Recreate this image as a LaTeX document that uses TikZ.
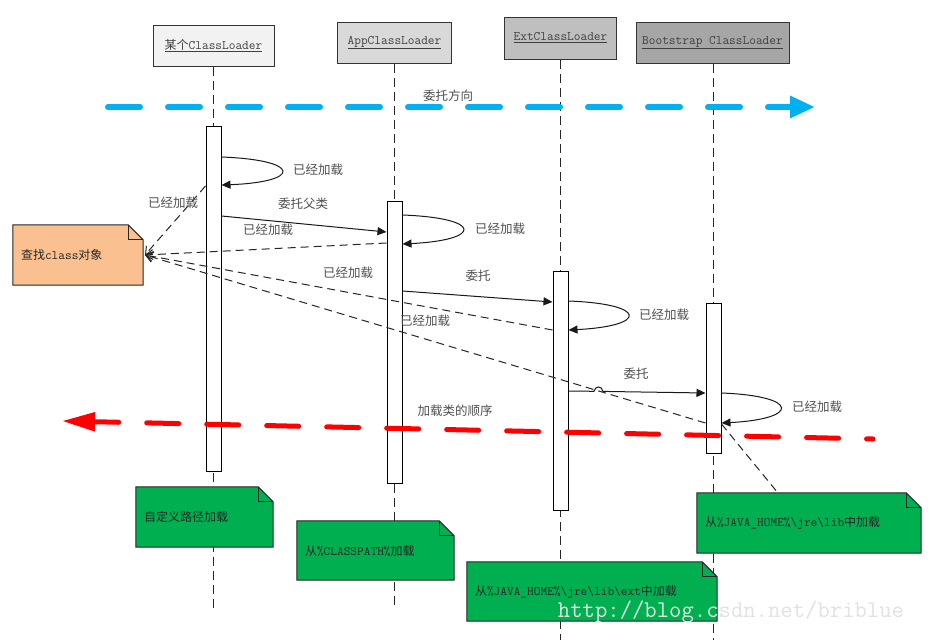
\documentclass[tikz,border=0pt]{standalone}
\usepackage{fontspec}
\setmainfont{Noto Sans CJK SC}
\usetikzlibrary{arrows.meta}
\definecolor{lblgray}{HTML}{505050}
\definecolor{hdrA}{HTML}{F2F2F2}
\definecolor{hdrB}{HTML}{D9D9D9}
\definecolor{hdrC}{HTML}{BFBFBF}
\definecolor{hdrD}{HTML}{A6A6A6}
\definecolor{peach}{HTML}{FAC090}
\definecolor{notegreen}{HTML}{00B050}
\definecolor{arrowblue}{HTML}{00B0F0}
\definecolor{wmgray}{HTML}{E2E2E2}
\newcommand\lat[1]{{\fontsize{13}{15}\ttfamily #1}}
\pgfdeclarelayer{lifelayer}
\pgfdeclarelayer{notebg}
\pgfsetlayers{lifelayer,notebg,main}
\newcommand\foldshape[2]{%
 \begin{pgfonlayer}{notebg}
 \filldraw[fill=#2, draw=black!85, line width=1pt] (#1.south west) -- (#1.north west) -- ([xshift=-15pt]#1.north east) -- ([yshift=-15pt]#1.north east) -- (#1.south east) -- cycle;
 \draw[black!85, line width=1pt] ([xshift=-15pt]#1.north east) -- ([xshift=-15pt,yshift=-15pt]#1.north east) -- ([yshift=-15pt]#1.north east);
 \end{pgfonlayer}}
\begin{document}
\begin{tikzpicture}[x=1pt,y=-1pt,
 hdr/.style={draw=black!80, line width=1pt, minimum height=41pt, text=black!75, font=\fontsize{12}{14}\selectfont, inner sep=0pt},
 act/.style={draw=black, line width=1pt, fill=white, minimum width=15pt, inner sep=0pt},
 lifeln/.style={draw=black!85, line width=1pt, dash pattern=on 9pt off 5pt},
 msg/.style={draw=black!90, line width=1pt, -{Triangle[length=9pt,width=8pt]}},
 ret/.style={draw=black!85, line width=1pt, dash pattern=on 8pt off 5pt, -{Straight Barb[length=7pt,width=10pt]}},
 attach/.style={draw=black!85, line width=1pt, dash pattern=on 8pt off 5pt},
 lbl/.style={text=lblgray, font=\fontsize{12.5}{14}\selectfont, inner sep=0pt},
 notetxt/.style={text=black!85, font=\fontsize{12}{14}\selectfont, align=left, inner xsep=8pt, inner ysep=0pt},
 bluearrow/.style={draw=arrowblue, line width=6pt, line cap=round, dash pattern=on 32pt off 28pt, -{Triangle[length=25pt,width=21pt]}},
 redarrow/.style={draw=red, line width=5pt, line cap=round, dash pattern=on 32pt off 28pt, dash phase=7pt, {Triangle[length=33pt,width=18pt]}-}
]
\useasboundingbox (0,0) rectangle (944,640);
\begin{pgfonlayer}{lifelayer}
\fill[white] (0,0) rectangle (944,640);
\end{pgfonlayer}

% headers
\node[hdr, fill=hdrA, minimum width=121pt] (h1) at (213.5,45.5) {\underline{某个\lat{ClassLoader}}};
\node[hdr, fill=hdrB, minimum width=114pt] (h2) at (394.5,42.5) {\underline{\lat{AppClassLoader}}};
\node[hdr, fill=hdrC, minimum width=112pt, minimum height=42pt] (h3) at (560.5,38) {\underline{\lat{ExtClassLoader}}};
\node[hdr, fill=hdrD, minimum width=153pt] (h4) at (712.5,42.5) {\underline{\lat{Bootstrap ClassLoader}}};

% lifeline ends
\coordinate (e1) at (213.5,610);
\coordinate (e2) at (394.5,607);
\coordinate (e3) at (560.5,640);
\coordinate (e4) at (713.5,640);
\begin{pgfonlayer}{lifelayer}
\draw[lifeln] (h1.south -| e1) -- (e1);
\draw[lifeln] (h2.south -| e2) -- (e2);
\draw[lifeln] (h3.south -| e3) -- (e3);
\draw[lifeln] (h4.south -| e4) -- (e4);
\end{pgfonlayer}

% activation boxes
\node[act, minimum height=345pt] (a1) at (213.5,298.5) {};
\node[act, minimum height=282pt] (a2) at (394.5,342) {};
\node[act, minimum height=239pt] (a3) at (560.5,390.5) {};
\node[act, minimum height=150pt] (a4) at (713.5,378) {};

% notes
\node[notetxt, minimum width=130pt, minimum height=60pt, text width=114pt] (n0) at (78,255) {查找\lat{class}对象};
\foldshape{n0}{peach}
\node[notetxt, minimum width=137pt, minimum height=60pt, text width=121pt] (n1) at (204.5,517) {自定义路径加载};
\foldshape{n1}{notegreen}
\node[notetxt, minimum width=157pt, minimum height=59pt, text width=141pt] (n2) at (375.5,550.5) {从\lat{\%CLASSPATH\%}加载};
\foldshape{n2}{notegreen}
\node[notetxt, minimum width=250pt, minimum height=59pt, text width=234pt] (n3) at (592,591.5) {从\lat{\%JAVA\_HOME\%\textbackslash jre\textbackslash lib\textbackslash ext}中加载};
\foldshape{n3}{notegreen}
\node[notetxt, minimum width=224pt, minimum height=60pt, text width=208pt] (n4) at (809,523) {从\lat{\%JAVA\_HOME\%\textbackslash jre\textbackslash lib}中加载};
\foldshape{n4}{notegreen}

\coordinate (tip) at (145,255);
\coordinate (n4att) at (778,493);

% self loops
\draw[msg] (a1.east |- 0,157) .. controls (302,160) and (302,182) .. (a1.east |- 0,185);
\draw[msg] (a2.east |- 0,215) .. controls (483,218) and (483,240) .. (a2.east |- 0,244);
\draw[msg] (a3.east |- 0,301) .. controls (648,304) and (648,326) .. (a3.east |- 0,330);
\draw[msg] (a4.east |- 0,393) .. controls (800,396) and (800,419) .. (a4.east |- 0,423);

% messages
\draw[msg] (a1.east |- 0,216) -- (a2.west |- 0,232);
\draw[msg] (a2.east |- 0,291) -- (a3.west |- 0,302);
\draw[msg] (a3.east |- 0,391) -- (594,391.3) .. controls (595,385.5) and (602,385.5) .. (603,391.4) -- (a4.west |- 0,393);

% returns
\draw[ret] (a1.west |- 0,186) -- (tip);
\draw[ret] (a2.west |- 0,243) -- (tip);
\draw[ret] (a3.west |- 0,330) -- (tip);
\draw[ret] (a4.west |- 0,423) -- (tip);
\draw[attach] (a4.east |- 0,424) -- (n4att);

% labels
\node[lbl] (l1) at (318,170) {已经加载};
\node[lbl] (l2) at (500,229) {已经加载};
\node[lbl] (l3) at (664,315) {已经加载};
\node[lbl] (l4) at (817,407) {已经加载};
\node[lbl] (m1) at (303,204) {委托父类};
\node[lbl] (m2) at (478,276) {委托};
\node[lbl] (m3) at (636,374) {委托};
\node[lbl] (r1) at (173,203) {已经加载};
\node[lbl] (r2) at (268,230) {已经加载};
\node[lbl] (r3) at (348,273) {已经加载};
\node[lbl] (r4) at (425,321) {已经加载};
\node[lbl] (dirlbl) at (448,96) {委托方向};
\node[lbl] (ordlbl) at (455,411) {加载类的顺序};

% big arrows
\coordinate (bS) at (108,107);
\coordinate (bE) at (815,107);
\draw[bluearrow] (bS) -- (bE);
\coordinate (rE) at (62,421);
\coordinate (rS) at (873,439);
\draw[redarrow] (rE) -- (rS);

% watermark
\node[text=wmgray, font=\fontsize{24}{26}\ttfamily, inner sep=0pt] (wmark) at (731,612) {http://blog.csdn.net/briblue};
\end{tikzpicture}
\end{document}
